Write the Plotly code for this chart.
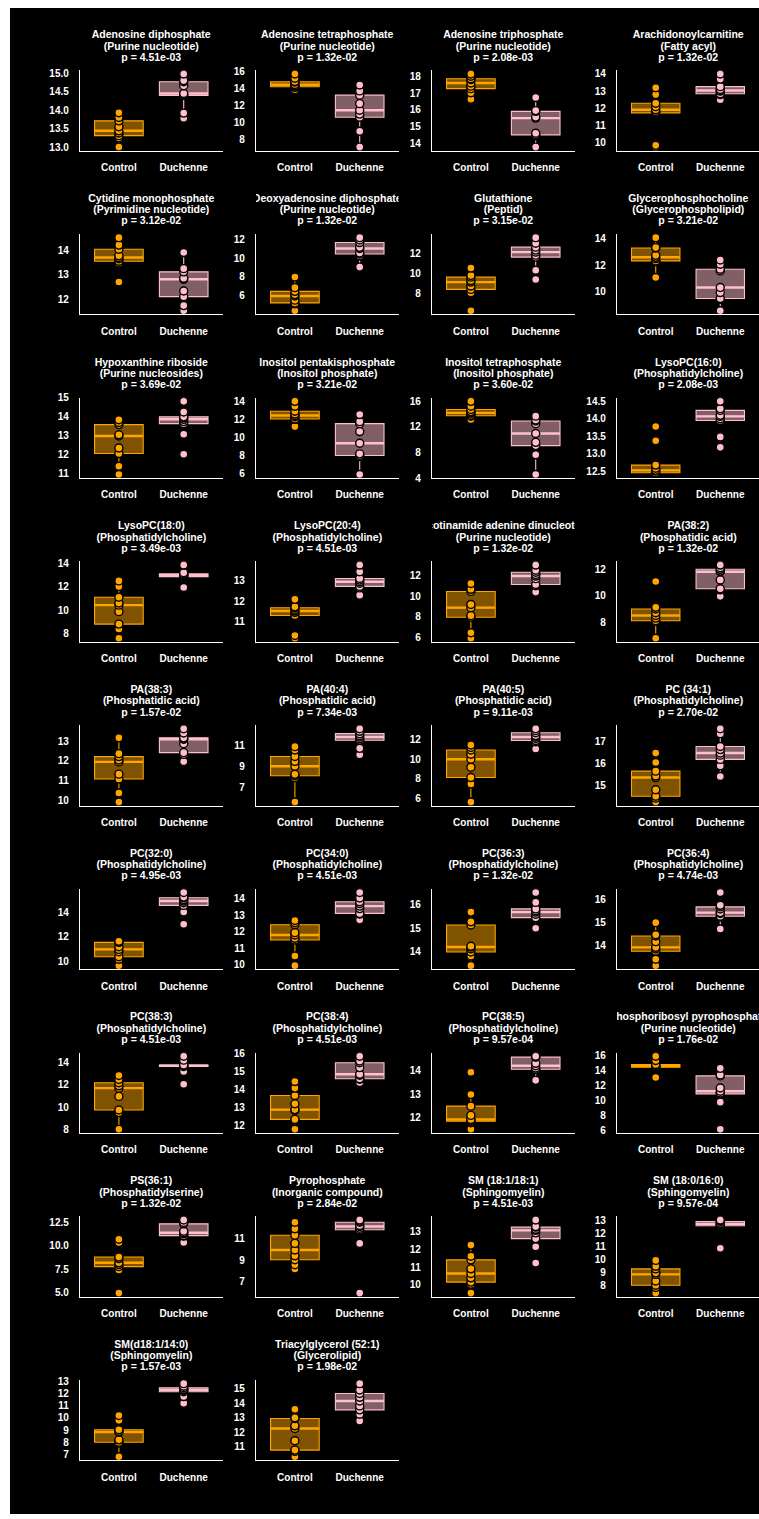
import numpy as np
import plotly.graph_objects as go

metabolites = [
    "Adenosine diphosphate", "Adenosine tetraphosphate", "Adenosine triphosphate", "Arachidonoylcarnitine",
    "Cytidine monophosphate", "Deoxyadenosine diphosphate", "Glutathione", "Glycerophosphocholine",
    "Hypoxanthine riboside", "Inositol pentakisphosphate", "Inositol tetraphosphate", "LysoPC(16:0)",
    "LysoPC(18:0)", "LysoPC(20:4)", "Nicotinamide adenine dinucleotide", "PA(38:2)",
    "PA(38:3)", "PA(40:4)", "PA(40:5)", "PC (34:1)",
    "PC(32:0)", "PC(34:0)", "PC(36:3)", "PC(36:4)",
    "PC(38:3)", "PC(38:4)", "PC(38:5)", "Phosphoribosyl pyrophosphate",
    "PS(36:1)", "Pyrophosphate", "SM (18:1/18:1)", "SM (18:0/16:0)",
    "SM(d18:1/14:0)", "Triacylglycerol (52:1)",
]
classes = [
    "Purine nucleotide", "Purine nucleotide", "Purine nucleotide", "Fatty acyl",
    "Pyrimidine nucleotide", "Purine nucleotide", "Peptid", "Glycerophospholipid",
    "Purine nucleosides", "Inositol phosphate", "Inositol phosphate", "Phosphatidylcholine",
    "Phosphatidylcholine", "Phosphatidylcholine", "Purine nucleotide", "Phosphatidic acid",
    "Phosphatidic acid", "Phosphatidic acid", "Phosphatidic acid", "Phosphatidylcholine",
    "Phosphatidylcholine", "Phosphatidylcholine", "Phosphatidylcholine", "Phosphatidylcholine",
    "Phosphatidylcholine", "Phosphatidylcholine", "Phosphatidylcholine", "Purine nucleotide",
    "Phosphatidylserine", "Inorganic compound", "Sphingomyelin", "Sphingomyelin",
    "Sphingomyelin", "Glycerolipid",
]
p_values = [
    "4.51e-03", "1.32e-02", "2.08e-03", "1.32e-02",
    "3.12e-02", "1.32e-02", "3.15e-02", "3.21e-02",
    "3.69e-02", "3.21e-02", "3.60e-02", "2.08e-03",
    "3.49e-03", "4.51e-03", "1.32e-02", "1.32e-02",
    "1.57e-02", "7.34e-03", "9.11e-03", "2.70e-02",
    "4.95e-03", "4.51e-03", "1.32e-02", "4.74e-03",
    "4.51e-03", "4.51e-03", "9.57e-04", "1.76e-02",
    "1.32e-02", "2.84e-02", "4.51e-03", "9.57e-04",
    "1.57e-03", "1.98e-02",
]
groups = ["Control", "Duchenne"]

control_values = [
    [13.0, 13.25, 13.31, 13.38, 13.44, 13.55, 13.71, 13.8, 13.93],
    [13.85, 14.1, 14.15, 14.3, 14.4, 14.45, 14.75, 14.8, 15.2, 15.7],
    [16.63, 17.02, 17.26, 17.41, 17.6, 17.8, 17.85, 18.0, 18.14],
    [9.75, 9.85, 11.74, 11.82, 11.92, 12.1, 12.3, 12.8, 13.2],
    [12.71, 13.48, 13.55, 13.65, 13.7, 13.77, 14.03, 14.2, 14.5],
    [4.35, 5.1, 5.2, 5.5, 5.95, 6.1, 6.45, 6.85, 8.0],
    [6.31, 8.1, 8.42, 8.75, 9.14, 9.3, 9.63, 9.79, 10.54],
    [11.08, 12.28, 12.33, 12.5, 12.6, 12.75, 13.3, 13.33, 14.08],
    [10.95, 11.39, 12.06, 12.35, 12.99, 13.05, 13.59, 13.7, 13.85],
    [11.2, 12.0, 12.05, 12.3, 12.44, 12.6, 12.91, 13.45, 14.0],
    [13.18, 13.69, 13.75, 14.0, 14.2, 14.4, 14.72, 15.23, 16.0],
    [12.4, 12.42, 12.45, 12.5, 12.52, 12.58, 12.67, 13.37, 13.78],
    [7.58, 8.37, 8.79, 9.86, 10.42, 10.6, 11.1, 12.03, 12.5],
    [10.22, 10.35, 11.31, 11.45, 11.52, 11.6, 11.68, 11.72, 12.08],
    [5.94, 6.47, 7.96, 8.12, 8.89, 9.2, 10.45, 10.66, 11.22],
    [6.78, 8.07, 8.1, 8.3, 8.5, 8.7, 8.99, 9.12, 11.06],
    [9.92, 10.37, 11.08, 11.33, 11.95, 12.05, 12.22, 12.37, 13.17],
    [5.62, 7.92, 8.1, 8.23, 9.0, 9.46, 9.92, 10.54, 10.85],
    [5.66, 7.48, 8.14, 9.19, 10.0, 10.5, 10.94, 11.2, 11.44],
    [14.28, 14.45, 14.54, 14.83, 15.38, 15.45, 15.67, 16.06, 16.49],
    [9.68, 10.19, 10.4, 10.8, 10.99, 11.2, 11.55, 11.6, 11.65],
    [9.96, 10.54, 11.51, 11.61, 11.81, 11.95, 12.43, 12.55, 12.68],
    [13.37, 13.79, 13.96, 14.1, 14.18, 14.21, 15.13, 15.27, 15.69],
    [13.12, 13.4, 13.75, 13.85, 13.92, 14.17, 14.42, 14.47, 15.0],
    [8.0, 9.5, 9.73, 10.95, 11.69, 11.9, 12.18, 12.47, 12.82],
    [11.76, 12.28, 12.32, 12.83, 12.87, 13.2, 13.66, 14.08, 14.45],
    [11.51, 11.79, 11.85, 11.9, 11.93, 12.1, 12.49, 12.98, 13.92],
    [13.04, 14.35, 14.4, 14.5, 14.57, 14.65, 14.78, 15.3, 15.87],
    [4.95, 7.43, 7.78, 8.0, 8.19, 8.64, 8.81, 10.36, 10.71],
    [8.2, 8.59, 9.05, 9.41, 9.95, 10.55, 11.3, 11.9, 12.5],
    [9.55, 10.04, 10.16, 10.4, 10.64, 10.9, 11.4, 11.6, 12.22],
    [7.45, 7.88, 8.05, 8.38, 8.88, 9.0, 9.3, 9.5, 9.95],
    [6.81, 7.93, 8.0, 8.2, 8.85, 8.89, 9.03, 9.8, 10.2],
    [10.31, 10.68, 10.77, 11.41, 12.26, 12.44, 12.94, 13.0, 13.58],
]

duchenne_values = [
    [13.78, 13.92, 14.40, 14.43, 14.45, 14.66, 14.77, 14.80, 14.98],
    [7.09, 8.95, 10.6, 10.97, 11.43, 12.2, 13.2, 13.7, 14.4],
    [13.77, 14.43, 14.5, 14.6, 15.5, 15.56, 15.9, 15.95, 16.73],
    [12.5, 12.8, 12.85, 13.0, 13.04, 13.1, 13.26, 13.7, 14.0],
    [11.55, 11.76, 12.12, 12.35, 12.82, 12.86, 13.12, 13.25, 13.9],
    [9.07, 10.3, 10.48, 10.6, 11.08, 11.2, 11.72, 12.0, 12.25],
    [9.4, 10.31, 11.61, 11.8, 12.1, 12.3, 12.59, 12.98, 13.53],
    [8.58, 9.45, 9.5, 9.95, 10.33, 11.58, 11.7, 12.08, 12.4],
    [12.02, 13.08, 13.64, 13.75, 13.87, 13.95, 14.0, 14.26, 14.82],
    [5.89, 7.89, 8.0, 8.18, 9.35, 10.65, 11.53, 11.75, 12.55],
    [4.56, 7.64, 9.08, 9.59, 10.97, 12.51, 12.92, 13.1, 13.69],
    [13.18, 13.48, 13.95, 14.0, 14.07, 14.1, 14.24, 14.29, 14.5],
    [11.94, 12.79, 12.87, 12.95, 13.0, 13.05, 13.1, 13.2, 13.86],
    [12.28, 12.63, 12.7, 12.85, 12.92, 13.0, 13.08, 13.4, 13.72],
    [10.39, 11.0, 11.13, 11.69, 11.94, 12.1, 12.31, 12.5, 13.0],
    [9.94, 10.43, 10.51, 11.18, 11.8, 11.85, 11.98, 12.1, 12.3],
    [11.97, 12.33, 12.42, 12.87, 13.1, 13.12, 13.17, 13.42, 13.63],
    [10.08, 10.69, 11.46, 11.6, 11.77, 11.9, 12.08, 12.3, 12.54],
    [11.04, 11.77, 11.9, 12.1, 12.26, 12.4, 12.69, 12.9, 13.09],
    [15.43, 15.91, 16.2, 16.39, 16.49, 16.64, 16.78, 17.36, 17.58],
    [13.01, 14.0, 14.53, 14.75, 14.88, 15.0, 15.15, 15.2, 15.57],
    [12.72, 13.07, 13.11, 13.4, 13.55, 13.7, 13.81, 14.04, 14.37],
    [14.99, 15.41, 15.45, 15.6, 15.69, 15.75, 15.83, 16.11, 16.54],
    [14.72, 15.25, 15.28, 15.4, 15.44, 15.6, 15.69, 15.76, 16.32],
    [12.04, 13.19, 13.63, 13.68, 13.71, 13.74, 13.77, 14.2, 14.55],
    [14.4, 14.58, 14.6, 14.8, 14.86, 15.23, 15.5, 15.6, 15.87],
    [13.58, 14.03, 14.05, 14.1, 14.2, 14.3, 14.56, 14.58, 14.6],
    [6.17, 9.78, 10.87, 11.0, 11.22, 11.65, 13.26, 13.39, 14.26],
    [10.36, 11.05, 11.1, 11.3, 11.4, 11.57, 12.36, 12.5, 12.78],
    [5.98, 10.55, 11.81, 11.95, 12.11, 12.2, 12.5, 12.6, 12.71],
    [11.22, 12.13, 12.58, 12.9, 13.04, 13.1, 13.22, 13.25, 13.62],
    [10.88, 12.55, 12.6, 12.7, 12.75, 12.8, 12.93, 13.0, 13.05],
    [11.21, 11.75, 12.15, 12.25, 12.31, 12.35, 12.47, 12.6, 12.81],
    [12.78, 13.24, 13.54, 13.81, 14.15, 14.4, 14.66, 14.9, 15.34],
]

y_ticks = [
    [13.0, 13.5, 14.0, 14.5, 15.0], [8, 10, 12, 14, 16], [14, 15, 16, 17, 18], [10, 11, 12, 13, 14],
    [12, 13, 14], [6, 8, 10, 12], [8, 10, 12], [10, 12, 14],
    [11, 12, 13, 14, 15], [6, 8, 10, 12, 14], [4, 8, 12, 16], [12.5, 13.0, 13.5, 14.0, 14.5],
    [8, 10, 12, 14], [10, 11, 12, 13], [6, 8, 10, 12], [8, 10, 12],
    [10, 11, 12, 13], [7, 9, 11], [6, 8, 10, 12], [15, 16, 17],
    [10, 12, 14], [10, 11, 12, 13, 14], [14, 15, 16], [14, 15, 16],
    [8, 10, 12, 14], [12, 13, 14, 15, 16], [12, 13, 14], [6, 8, 10, 12, 14, 16],
    [5.0, 7.5, 10.0, 12.5], [7, 9, 11], [10, 11, 12, 13], [8, 9, 10, 11, 12, 13],
    [7, 8, 9, 10, 11, 12, 13], [11, 12, 13, 14, 15],
]

# ---- styling / layout (pixels) ----
W, H = 759, 1519
COL_X = [80, 256, 432, 617]
PANEL_W = 142.6
ROW_TOP0 = 65.7
ROW_PITCH = 164.8
PANEL_H = 81.0
TITLE_OFFSETS = [-36.4, -24.9, -13.6]
FONT = "Liberation Sans, Arial, sans-serif"
LINE_COL = ["#FFA500", "#FFC0CB"]
FILL_COL = ["rgba(255,165,0,0.5)", "rgba(255,192,203,0.5)"]
BOX_W = 0.75

fig = go.Figure()
layout = {}
annotations = []

for i, name in enumerate(metabolites):
    r, c = divmod(i, 4)
    x0 = COL_X[c]
    x1 = min(x0 + PANEL_W, W)
    top = ROW_TOP0 + r * ROW_PITCH
    bot = top + PANEL_H
    k = "" if i == 0 else str(i + 1)
    xa, ya = "x" + k, "y" + k

    data = [control_values[i], duchenne_values[i]]
    allv = np.concatenate([np.array(d) for d in data])
    lo, hi = allv.min(), allv.max()
    pad = 0.05 * (hi - lo)

    for g, vals in enumerate(data):
        pos = g + 1
        a = np.array(vals)
        q1, med, q3 = np.percentile(a, [25, 50, 75])
        iqr = q3 - q1
        lf = a[a >= q1 - 1.5 * iqr].min()
        uf = a[a <= q3 + 1.5 * iqr].max()
        fig.add_trace(go.Box(
            x=[pos], q1=[q1], median=[med], q3=[q3], lowerfence=[lf], upperfence=[uf],
            width=BOX_W, whiskerwidth=0, boxpoints=False,
            fillcolor=FILL_COL[g], line=dict(color=LINE_COL[g], width=1.1),
            xaxis=xa, yaxis=ya, showlegend=False, hoverinfo="skip",
        ))
        fig.add_trace(go.Scatter(
            x=[pos - BOX_W / 2, pos + BOX_W / 2], y=[med, med], mode="lines",
            line=dict(color=LINE_COL[g], width=2.4),
            xaxis=xa, yaxis=ya, showlegend=False, hoverinfo="skip",
        ))
        fig.add_trace(go.Scatter(
            x=[pos] * len(vals), y=vals, mode="markers",
            marker=dict(size=8, color=LINE_COL[g], line=dict(color="black", width=1.4)),
            xaxis=xa, yaxis=ya, showlegend=False, hoverinfo="skip",
        ))

    ticks = y_ticks[i]
    dec = any(float(t) != int(t) for t in ticks)
    ticktext = [f"{t:.1f}" if dec else f"{int(t)}" for t in ticks]

    layout["xaxis" + k] = dict(
        domain=[x0 / W, x1 / W], anchor=ya, range=[0.4, 2.6],
        tickvals=[1, 2], ticktext=groups,
        showgrid=False, zeroline=False, showline=True, linecolor="white", linewidth=1.4,
        ticks="outside", ticklen=7, tickcolor="rgba(0,0,0,0)",
        tickfont=dict(family=FONT, size=10, color="white", weight="bold"),
        fixedrange=True,
    )
    layout["yaxis" + k] = dict(
        domain=[1 - bot / H, 1 - top / H], anchor=xa, range=[lo - pad, hi + pad],
        tickvals=ticks, ticktext=ticktext,
        showgrid=False, zeroline=False, showline=True, linecolor="white", linewidth=1.4,
        ticks="outside", ticklen=8, tickcolor="rgba(0,0,0,0)",
        tickfont=dict(family=FONT, size=10, color="white", weight="bold"),
        fixedrange=True,
    )

    lines = [name, f"({classes[i]})", f"p = {p_values[i]}"]
    for txt, off in zip(lines, TITLE_OFFSETS):
        annotations.append(dict(
            x=(x0 + x0 + PANEL_W) / 2 / W, y=1 - (top + off) / H, xref="paper", yref="paper",
            xanchor="center", yanchor="middle", showarrow=False, width=PANEL_W, align="center",
            text=f"<b>{txt}</b>", font=dict(family=FONT, size=10.5, color="white"),
        ))

fig.update_layout(
    width=W, height=H, margin=dict(l=0, r=0, t=0, b=0),
    paper_bgcolor="white", plot_bgcolor="black",
    annotations=annotations,
    shapes=[dict(type="rect", xref="paper", yref="paper", x0=10 / W, x1=1, y0=0, y1=1 - 3 / H,
                 fillcolor="black", line=dict(width=0), layer="below")],
    **layout,
)

fig.write_html("out.html", config={"displayModeBar": False},
               post_script="document.body.style.margin='0px';")
